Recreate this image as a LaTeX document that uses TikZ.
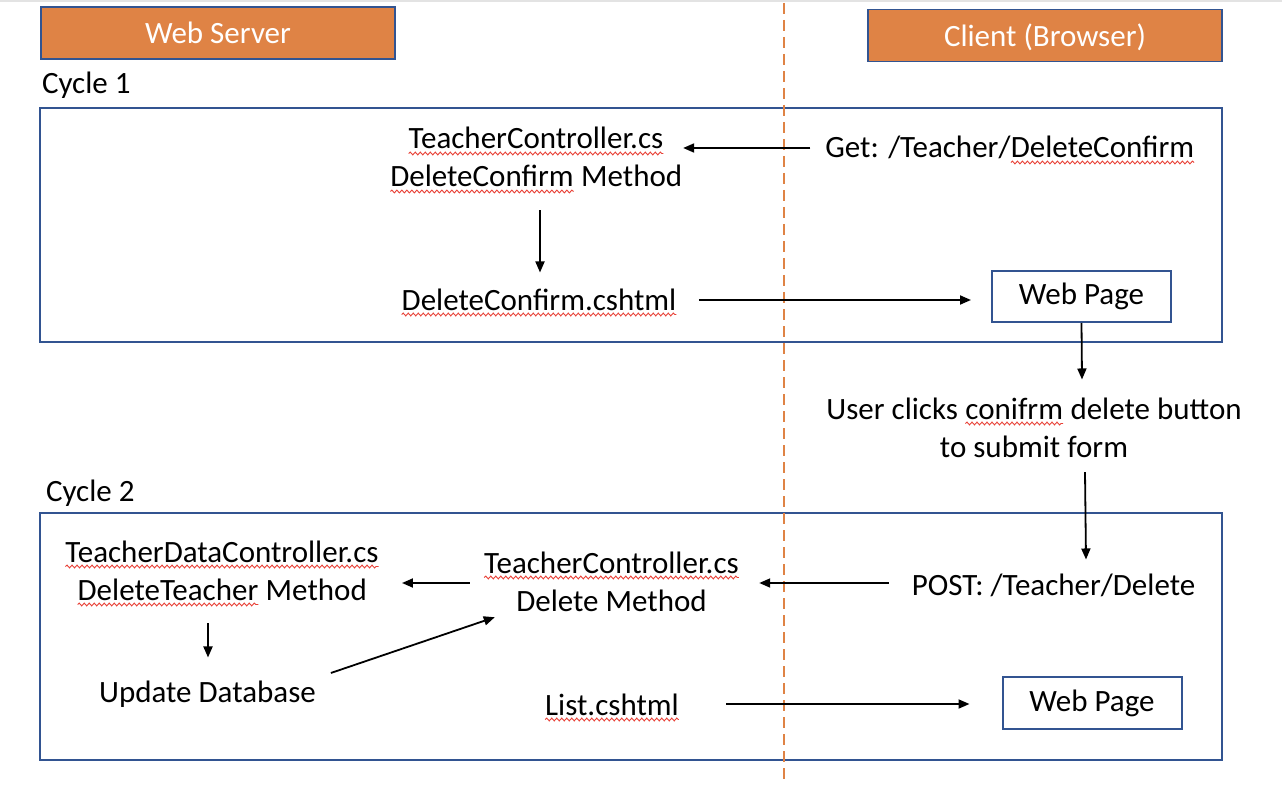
\documentclass[tikz,border=0pt]{standalone}
\usepackage{fontspec}
\setmainfont{Carlito}
\usetikzlibrary{arrows.meta,calc,decorations.pathmorphing}
\definecolor{orng}{RGB}{223,131,69}
\definecolor{bord}{RGB}{50,84,145}
\definecolor{squigred}{RGB}{232,64,54}
\tikzset{
  squig/.style={draw=squigred,line width=0.9pt,decorate,decoration={snake,amplitude=1.4pt,segment length=5pt}},
}
\newcommand\sq[1]{\tikz[baseline=(w.base)]{\node[inner sep=0pt,outer sep=0pt,anchor=base,draw=none,fill=none](w){#1};\draw[squig]([yshift=-4.5pt]w.base west)--([yshift=-4.5pt]w.base east);}}
\begin{document}
\begin{tikzpicture}[x=1pt,y=-1pt,
  txt/.style={inner sep=0pt,outer sep=0pt,anchor=base,align=center,font=\fontsize{31}{38}\selectfont},
  hdr/.style={draw=bord,line width=1.8pt,fill=orng,text=white,inner sep=0pt,minimum width=354pt,minimum height=52pt,text height=22pt,text depth=0pt,font=\fontsize{31}{38}\selectfont},
  cycframe/.style={draw=bord,line width=2pt,inner sep=0pt},
  pagebox/.style={draw=bord,line width=2pt,inner sep=0pt,minimum width=179pt,text height=22pt,text depth=5pt,font=\fontsize{31}{38}\selectfont},
  arr/.style={line width=1.8pt,-{Triangle[length=11pt,width=9pt]}},
  divider/.style={draw=orng,line width=2.6pt,dash pattern=on 11pt off 6pt}]
\useasboundingbox (0,0) rectangle (1282,786);
\fill[gray!22] (0,0) rectangle (1282,2.5);
% headers
\node[hdr] (ws) at (218,33) {Web Server};
\node[hdr] (cl) at (1045,35.5) {Client (Browser)};
% cycle frames
\node[txt,anchor=base west] (c1) at (42,94) {Cycle 1};
\node[cycframe,minimum width=1182pt,minimum height=234pt] (cyc1) at (631,225) {};
\node[txt,anchor=base west] (c2) at (46,501) {Cycle 2};
\node[cycframe,minimum width=1182pt,minimum height=247pt] (cyc2) at (631,636.5) {};
% divider
\draw[divider] (784,3) -- (784,783);
% cycle 1 texts (multi-line nodes: base = last line)
\node[txt] (tc1) at (536,187) {\sq{TeacherController.cs}\\\sq{DeleteConfirm} Method};
\node[txt] (dcv) at (539,310) {\sq{DeleteConfirm.cshtml}};
\node[txt] (get) at (1010,158) {Get: /Teacher/\sq{DeleteConfirm}};
\node[pagebox,minimum height=51pt] (wp1) at (1081.5,296.5) {Web Page};
\node[txt] (user) at (1034,457) {User clicks \sq{conifrm} delete button\\to submit form};
% cycle 2 texts
\node[txt] (post) at (1053.5,595) {POST: /Teacher/Delete};
\node[txt] (tdc) at (222,600) {\sq{TeacherDataController.cs}\\\sq{DeleteTeacher} Method};
\node[txt] (upd) at (207.5,702) {Update Database};
\node[txt] (tc2) at (611.5,611) {\sq{TeacherController.cs}\\Delete Method};
\node[txt] (list) at (612,715) {\sq{List.cshtml}};
\node[pagebox,minimum height=52pt] (wp2) at (1092,703) {Web Page};
% connectors
\draw[arr] ($(get.base west)+(-15,-10)$) -- ($(get.base west -| tc1.east)+(1,-10)$);
\draw[arr] ($(tc1.south)+(4,17)$) -- ($(dcv.north)+(1,-16)$);
\draw[arr] ($(dcv.base east)+(22,-10)$) -- ($(dcv.base east -| wp1.west)+(-20,-10)$);
\draw[arr] (wp1.south) -- ($(wp1.south |- user.north)+(0.5,-18)$);
\draw[arr] ($(user.south)+(51,15)$) -- ($(post.north)+(32.5,-14)$);
\draw[arr] ($(post.base west)+(-23,-12)$) -- ($(post.base west -| tc2.east)+(20,-12)$);
\draw[arr] ($(post.base west -| tc2.west)+(-14,-12)$) -- ($(post.base west -| tdc.east)+(23,-12)$);
\draw[arr] ($(tdc.south)+(-14,17)$) -- ($(upd.north)+(0.5,-23)$);
\draw[arr] ($(upd.base east)+(15,-29)$) -- ($(tc2.south west)+(11,6)$);
\draw[arr] ($(list.base east)+(47,-11)$) -- ($(list.base east -| wp2.west)+(-32,-11)$);
\end{tikzpicture}
\end{document}
